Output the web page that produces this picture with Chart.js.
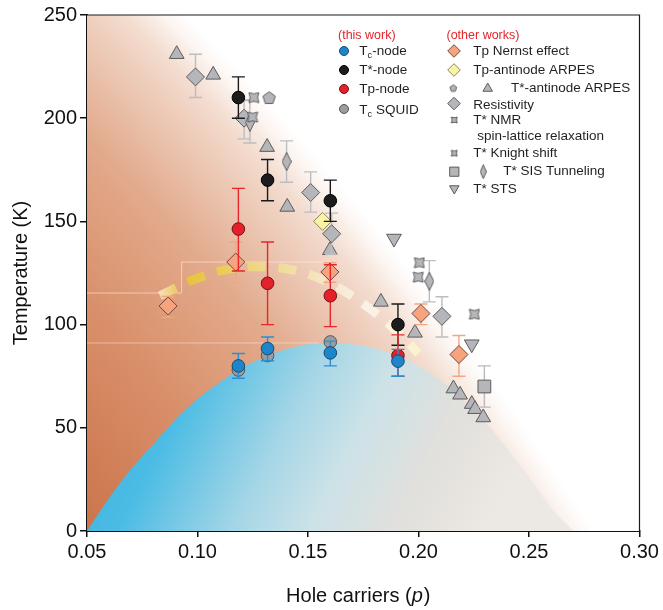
<!DOCTYPE html>
<html><head><meta charset="utf-8">
<script src="https://cdn.jsdelivr.net/npm/chart.js@4.4.1/dist/chart.umd.min.js"></script>
<style>html,body{margin:0;padding:0;background:#fff;}#wrap{width:663px;height:610px;}</style>
</head><body><div id="wrap"><canvas id="c" width="663" height="610"></canvas></div>
<script>
// ---------------- data ----------------
const xTicks = [0.05, 0.10, 0.15, 0.20, 0.25, 0.30];
const yTicks = [0, 50, 100, 150, 200, 250];

// this work (shared doping levels)
const pThis = [0.1185, 0.1317, 0.1601, 0.1907];
const tcNode = [80, 88.4, 86.3, 82.3];
const tcNodeLo = [74, 82.5, 80, 75];
const tcNodeHi = [86, 94, 92, 88];
const tStarNode = [210, 170, 160, 100];
const tStarNodeLo = [200, 160, 150, 90];
const tStarNodeHi = [220, 180, 170, 110];
const tpNode = [146.3, 120, 114, 85];
const tpNodeLo = [126, 100, 99, 75];
const tpNodeHi = [166, 140, 129, 95];
const pSquid = [0.1185, 0.1317, 0.1601];
const tcSquid = [78, 85, 91.6];

// other works
const pNernst = [0.0867, 0.1173, 0.1599, 0.2011, 0.2183];
const tNernst = [109, 130.3, 125.5, 105.4, 85.5];
const tNernstLo = [103.5, 120, 120.5, 100, 75];
const tNernstHi = [113.6, 140, 130, 110, 94.7];
const pTpArpes = [0.1566];
const tTpArpes = [150];
const pArpesTri = [0.0906, 0.1071, 0.1315, 0.1406, 0.1599, 0.1830, 0.1984, 0.2158, 0.2188, 0.2241, 0.2256, 0.2293];
const tArpesTri = [231, 221, 186, 157, 136, 111, 96, 69, 66, 61.5, 59, 55];
const pArpesPent = [0.1324];
const tArpesPent = [210];
const pResist = [0.0991, 0.1211, 0.1512, 0.1607, 0.2106];
const tResist = [220, 200, 164, 144, 104];
const tResistLo = [210, 190, 154.5, 134, 94];
const tResistHi = [231, 209, 174, 154, 113.5];
const pNmr = [0.1255, 0.2004, 0.2253];
const tNmr = [210, 130, 105];
const pKnight = [0.1249, 0.1999];
const tKnight = [200.5, 123];
const pSisSq = [0.2298];
const tSisSq = [70];
const tSisSqLo = [60];
const tSisSqHi = [80];
const pSisDia = [0.1237, 0.1403, 0.2049];
const tSisDia = [198, 179, 121];
const tSisDiaLo = [188, 169, 111];
const tSisDiaHi = [208.5, 189, 131];
const pSts = [0.1889, 0.2241];
const tSts = [141.7, 90.5];

// shaded regions / guide curves
const pDome = [0.05,0.06,0.07,0.08,0.09,0.10,0.11,0.12,0.13,0.14,0.15,0.16,0.17,0.18,0.19,0.20,0.21,0.22,0.23,0.24,0.25,0.26,0.27];
const tDome = [0,16,30,42,54,64,72,79,84,88,90.5,91,90.5,88.5,85,80,73,64,53,40,26,11,0];
const pPseudo = [0.05, 0.15, 0.20, 0.25, 0.30];
const tPseudo = [250, 250, 160, 80, 0];
const pTpCurve = [0.083, 0.10, 0.115, 0.13, 0.145, 0.16, 0.175, 0.19, 0.20];
const tTpCurve = [114, 122.5, 127, 128, 126, 120, 110, 97, 86];
const pGuideA = [0.05, 0.0928, 0.0928, 0.16];
const tGuideA = [115.3, 115.3, 130.3, 130.3];
const pGuideB = [0.05, 0.155];
const tGuideB = [91.1, 91.1];

// ---------------- helpers ----------------
const FONT = '"Liberation Sans", Arial, Helvetica, sans-serif';
Chart.defaults.font.family = FONT;
const zip = (xs, ys) => xs.map((x, i) => ({x, y: ys[i]}));
const GREY = '#b5b6b9', GREY_EDGE = '#5c5c5e';

function mk(w, h, draw) { const c = document.createElement('canvas'); c.width = w; c.height = h; draw(c.getContext('2d'), w, h); return c; }
function pentagon(size) {
  return mk(size, size, (g, w, h) => {
    const r = size / 2 - 1; g.beginPath();
    for (let i = 0; i < 5; i++) { const a = -Math.PI / 2 + i * 2 * Math.PI / 5; const px = w / 2 + r * Math.cos(a), py = h / 2 + r * Math.sin(a) + r * 0.1; i ? g.lineTo(px, py) : g.moveTo(px, py); }
    g.closePath(); g.fillStyle = GREY; g.fill(); g.strokeStyle = GREY_EDGE; g.lineWidth = 1; g.stroke();
  });
}
function bowtie(size) {
  return mk(size, size, (g, w, h) => {
    const a = 1, b = size - 1, m = size / 2, k = size * 0.22;
    g.beginPath(); g.moveTo(a, a);
    g.quadraticCurveTo(m, a + k, b, a); g.quadraticCurveTo(b - k, m, b, b);
    g.quadraticCurveTo(m, b - k, a, b); g.quadraticCurveTo(a + k, m, a, a);
    g.closePath(); g.fillStyle = GREY; g.fill(); g.strokeStyle = GREY_EDGE; g.lineWidth = 1; g.stroke();
  });
}
function thinDiamond(w0, h0) {
  return mk(w0, h0, (g, w, h) => {
    g.beginPath(); g.moveTo(w / 2, 0.5); g.lineTo(w - 0.5, h / 2); g.lineTo(w / 2, h - 0.5); g.lineTo(0.5, h / 2); g.closePath();
    g.fillStyle = GREY; g.fill(); g.strokeStyle = GREY_EDGE; g.lineWidth = 1; g.stroke();
  });
}
const imgPent = pentagon(15), imgPentL = pentagon(9);
const imgBow = bowtie(12), imgBowL = bowtie(8);
const imgThin = thinDiamond(10, 19), imgThinL = thinDiamond(7, 15);

function marker(label, data, style, radius, fill, edge, extra) {
  return Object.assign({type: 'scatter', label, data, pointStyle: style, pointRadius: radius, pointHoverRadius: radius,
    pointBackgroundColor: fill, pointBorderColor: edge, pointBorderWidth: 1, showLine: false}, extra || {});
}

// ---------------- datasets ----------------
const datasets = [
  marker('Tc-node', zip(pThis, tcNode), 'circle', 6.3, '#1e86c8', '#1b4a6e', {errLo: tcNodeLo, errHi: tcNodeHi, errColor: '#2a8fd4', order: 1}),
  marker('Tp-node', zip(pThis, tpNode), 'circle', 6.3, '#e5202a', '#6e1616', {errLo: tpNodeLo, errHi: tpNodeHi, errColor: '#e8262b', order: 2}),
  marker('T*-node', zip(pThis, tStarNode), 'circle', 6.3, '#1c1c1c', '#000', {errLo: tStarNodeLo, errHi: tStarNodeHi, errColor: '#1a1a1a', order: 3}),
  marker('Tc SQUID', zip(pSquid, tcSquid), 'circle', 6.3, '#9c9c9e', '#555', {order: 4}),
  marker('Tp Nernst effect', zip(pNernst, tNernst), 'rectRot', 9, '#f7a47e', '#6b4a40', {errLo: tNernstLo, errHi: tNernstHi, errColor: '#f5a582', order: 5}),
  marker('Tp-antinode ARPES', zip(pTpArpes, tTpArpes), 'rectRot', 9, '#faf3a3', '#8a8660', {order: 6}),
  marker('T* STS', zip(pSts, tSts), 'triangle', 8.5, GREY, GREY_EDGE, {pointRotation: 180, order: 7}),
  marker('T* Knight shift', zip(pKnight, tKnight), imgBow, 6, GREY, GREY_EDGE, {order: 8}),
  marker('T* NMR', zip(pNmr, tNmr), imgBow, 6, GREY, GREY_EDGE, {order: 9}),
  marker('T* SIS Tunneling (square)', zip(pSisSq, tSisSq), 'rect', 9, GREY, GREY_EDGE, {errLo: tSisSqLo, errHi: tSisSqHi, errColor: '#b9b9bb', order: 10}),
  marker('T* SIS Tunneling', zip(pSisDia, tSisDia), imgThin, 8, GREY, GREY_EDGE, {errLo: tSisDiaLo, errHi: tSisDiaHi, errColor: '#bdbdbf', order: 11}),
  marker('Resistivity', zip(pResist, tResist), 'rectRot', 9, GREY, GREY_EDGE, {errLo: tResistLo, errHi: tResistHi, errColor: '#bdbdbf', order: 12}),
  marker('T*-antinode ARPES (pentagon)', zip(pArpesPent, tArpesPent), imgPent, 7, GREY, GREY_EDGE, {order: 13}),
  marker('T*-antinode ARPES', zip(pArpesTri, tArpesTri), 'triangle', 8.5, GREY, GREY_EDGE, {order: 14}),
  {type: 'line', label: 'Tp curve', data: zip(pTpCurve, tTpCurve), borderWidth: 9, borderDash: [18, 13], borderCapStyle: 'butt',
    tension: 0.4, pointRadius: 0, fill: false, order: 20,
    borderColor: (c) => {
      const ch = c.chart, a = ch.chartArea; if (!a) return '#e8c440';
      const xs = ch.scales.x; const g = ch.ctx.createLinearGradient(xs.getPixelForValue(0.082), 0, xs.getPixelForValue(0.20), 0);
      g.addColorStop(0, 'rgba(250,236,205,0.8)'); g.addColorStop(0.1, '#e6c23a');
      g.addColorStop(0.25, '#ebcc58'); g.addColorStop(0.38, '#efd686'); g.addColorStop(0.52, '#f2dfa6');
      g.addColorStop(0.66, '#f6e8cc'); g.addColorStop(0.8, '#faf1e8'); g.addColorStop(1, '#faf3cc');
      return g;
    }},
  {type: 'line', label: 'guide A', data: zip(pGuideA, tGuideA), borderColor: 'rgba(255,236,226,0.6)', borderWidth: 1, pointRadius: 0, tension: 0, fill: false, order: 21},
  {type: 'line', label: 'guide B', data: zip(pGuideB, tGuideB), borderColor: 'rgba(255,236,226,0.5)', borderWidth: 1, pointRadius: 0, tension: 0, fill: false, order: 22},
  {type: 'line', label: 'SC dome', data: zip(pDome, tDome), borderWidth: 0, pointRadius: 0, cubicInterpolationMode: 'monotone', fill: 'origin', order: 30,
    borderColor: 'rgba(0,0,0,0)',
    backgroundColor: (c) => {
      const ch = c.chart, a = ch.chartArea; if (!a) return '#4cbce4';
      const g = ch.ctx.createLinearGradient(a.left + 33, a.bottom - 151, a.left + 383, a.bottom + 29);
      g.addColorStop(0, '#3cb4e0'); g.addColorStop(0.17, '#4cbce4'); g.addColorStop(0.43, '#a5d6e6');
      g.addColorStop(0.6, '#cce2e8'); g.addColorStop(0.8, '#e2e0dc'); g.addColorStop(1, '#ece8e4');
      return g;
    }},
  {type: 'line', label: 'pseudogap', data: zip(pPseudo, tPseudo), borderWidth: 0, pointRadius: 0, tension: 0, fill: 'origin', order: 40,
    borderColor: 'rgba(0,0,0,0)',
    backgroundColor: (c) => {
      const ch = c.chart, a = ch.chartArea; if (!a) return '#d99270';
      const cx = a.left - 2022, cy = a.bottom + 1581, R = 2967;
      const g = ch.ctx.createRadialGradient(cx, cy, R - 420, cx, cy, R + 15);
      g.addColorStop(0, '#c87049'); g.addColorStop(0.09, '#cd7850'); g.addColorStop(0.386, '#d9906a');
      g.addColorStop(0.646, '#e2aa8c'); g.addColorStop(0.841, '#efd0bf'); g.addColorStop(0.897, '#f3dccf');
      g.addColorStop(0.966, '#fcf6f2'); g.addColorStop(1, '#ffffff');
      return g;
    }},
];

// ---------------- plugins ----------------
const errorBarPlugin = {
  id: 'errorBars',
  beforeDatasetDraw(chart, args) {
    const ds = chart.data.datasets[args.index];
    if (!ds.errLo) return;
    const ys = chart.scales.y, ctx = chart.ctx;
    ctx.save(); ctx.strokeStyle = ds.errColor; ctx.lineWidth = 1.4;
    args.meta.data.forEach((pt, i) => {
      const x = pt.x, y1 = ys.getPixelForValue(ds.errLo[i]), y2 = ys.getPixelForValue(ds.errHi[i]);
      ctx.beginPath(); ctx.moveTo(x, y1); ctx.lineTo(x, y2);
      ctx.moveTo(x - 6.5, y1); ctx.lineTo(x + 6.5, y1); ctx.moveTo(x - 6.5, y2); ctx.lineTo(x + 6.5, y2); ctx.stroke();
    });
    ctx.restore();
  }
};

function sym(ctx, style, x, y, r, fill, edge, rot) {
  ctx.save(); ctx.fillStyle = fill; ctx.strokeStyle = edge; ctx.lineWidth = 1;
  Chart.helpers.drawPoint(ctx, {pointStyle: style, radius: r, rotation: rot || 0, borderWidth: 1}, x, y);
  ctx.restore();
}
function textSub(ctx, x, y, main, sub, rest, size) {
  ctx.font = size + 'px ' + FONT; ctx.fillText(main, x, y); let w = ctx.measureText(main).width;
  ctx.font = (size * 0.68) + 'px ' + FONT; ctx.fillText(sub, x + w, y + 4); w += ctx.measureText(sub).width;
  ctx.font = size + 'px ' + FONT; ctx.fillText(rest, x + w, y);
}

const decorPlugin = {
  id: 'decor',
  afterDraw(chart) {
    const ctx = chart.ctx, a = chart.chartArea;
    ctx.save();
    // frame top/right
    ctx.strokeStyle = '#1a1a1a'; ctx.lineWidth = 1.2;
    ctx.beginPath(); ctx.moveTo(a.left, a.top); ctx.lineTo(a.right, a.top); ctx.lineTo(a.right, a.bottom); ctx.stroke();
    // x title with italic p
    ctx.fillStyle = '#111'; ctx.textBaseline = 'alphabetic'; ctx.textAlign = 'left';
    const f = '20px ' + FONT, fi = 'italic 20px ' + FONT;
    ctx.font = f; const w1 = ctx.measureText('Hole carriers (').width; const w3 = ctx.measureText(')').width;
    ctx.font = fi; const w2 = ctx.measureText('p').width;
    let x0 = (a.left + a.right) / 2 - 5.5 - (w1 + w2 + w3) / 2; const yb = a.bottom + 71;
    ctx.font = f; ctx.fillText('Hole carriers (', x0, yb);
    ctx.font = fi; ctx.fillText('p', x0 + w1, yb);
    ctx.font = f; ctx.fillText(')', x0 + w1 + w2 + 1, yb);
    // legend
    ctx.textBaseline = 'middle';
    ctx.fillStyle = '#e3262a'; ctx.font = '12.5px ' + FONT;
    ctx.fillText('(this work)', 338, 36); ctx.fillText('(other works)', 446.5, 36);
    const S = 13.5, TC = '#231f20';
    sym(ctx, 'circle', 344, 51, 4.5, '#1e86c8', '#1b4a6e');
    sym(ctx, 'circle', 344, 70, 4.5, '#1c1c1c', '#000');
    sym(ctx, 'circle', 344, 89, 4.5, '#e5202a', '#6e1616');
    sym(ctx, 'circle', 344, 109, 4.5, '#9c9c9e', '#555');
    ctx.fillStyle = TC;
    textSub(ctx, 359.3, 51, 'T', 'c', '-node', S);
    ctx.font = S + 'px ' + FONT; ctx.fillText('T*-node', 359.3, 70); ctx.fillText('Tp-node', 359.3, 89);
    textSub(ctx, 359.3, 110, 'T', 'c', ' SQUID', S);
    sym(ctx, 'rectRot', 454, 51, 6.3, '#f7a47e', '#6b4a40');
    sym(ctx, 'rectRot', 454, 70, 6.3, '#faf3a3', '#8a8660');
    sym(ctx, imgPentL, 453.3, 88, 5, GREY, GREY_EDGE);
    sym(ctx, 'triangle', 487.7, 88.5, 5.5, GREY, GREY_EDGE);
    sym(ctx, 'rectRot', 454, 103.5, 6.3, GREY, GREY_EDGE);
    sym(ctx, imgBowL, 454.3, 120, 4, GREY, GREY_EDGE);
    sym(ctx, imgBowL, 454.3, 153.3, 4, GREY, GREY_EDGE);
    sym(ctx, 'rect', 454.3, 171.7, 6.5, GREY, GREY_EDGE);
    sym(ctx, imgThinL, 483.3, 171.7, 5, GREY, GREY_EDGE);
    sym(ctx, 'triangle', 454.3, 188.5, 5.5, GREY, GREY_EDGE, 180);
    ctx.fillStyle = TC; ctx.font = S + 'px ' + FONT;
    ctx.fillText('Tp Nernst effect', 473.3, 51);
    ctx.fillText('Tp-antinode ARPES', 473.3, 70);
    ctx.fillText('T*-antinode ARPES', 511, 88.5);
    ctx.fillText('Resistivity', 473.3, 105);
    ctx.fillText('T* NMR', 473.3, 120);
    ctx.fillText('spin-lattice relaxation', 477.3, 136);
    ctx.fillText('T* Knight shift', 473.3, 153.3);
    ctx.fillText('T* SIS Tunneling', 503.3, 171.7);
    ctx.fillText('T* STS', 473.3, 189.3);
    ctx.restore();
  }
};

// ---------------- chart ----------------
new Chart(document.getElementById('c'), {
  type: 'scatter',
  data: {datasets},
  options: {
    responsive: false, animation: false, events: [],
    layout: {padding: {top: 14.5, right: 23.5, left: 0, bottom: 0}},
    plugins: {legend: {display: false}, tooltip: {enabled: false}},
    scales: {
      x: {type: 'linear', min: xTicks[0], max: xTicks[xTicks.length - 1],
        afterFit(s) { s.height = 79; },
        afterBuildTicks(s) { s.ticks = xTicks.map(v => ({value: v})); },
        ticks: {callback: v => Number(v).toFixed(2), font: {size: 20}, color: '#111', padding: 3, maxRotation: 0, autoSkip: false},
        grid: {drawOnChartArea: false, drawTicks: true, tickLength: 6, color: '#111', lineWidth: 1.5},
        border: {display: true, color: '#111', width: 2}},
      y: {min: yTicks[0], max: yTicks[yTicks.length - 1],
        afterFit(s) { s.width = 87; },
        afterBuildTicks(s) { s.ticks = yTicks.map(v => ({value: v})); },
        ticks: {font: {size: 20}, color: '#111', padding: 3},
        grid: {drawOnChartArea: false, drawTicks: true, tickLength: 7, color: '#111', lineWidth: 1.5},
        border: {display: true, color: '#111', width: 2},
        title: {display: true, text: 'Temperature (K)', font: {size: 20}, color: '#111', padding: {top: 9, bottom: 0}}}
    }
  },
  plugins: [errorBarPlugin, decorPlugin]
});
</script></body></html>
